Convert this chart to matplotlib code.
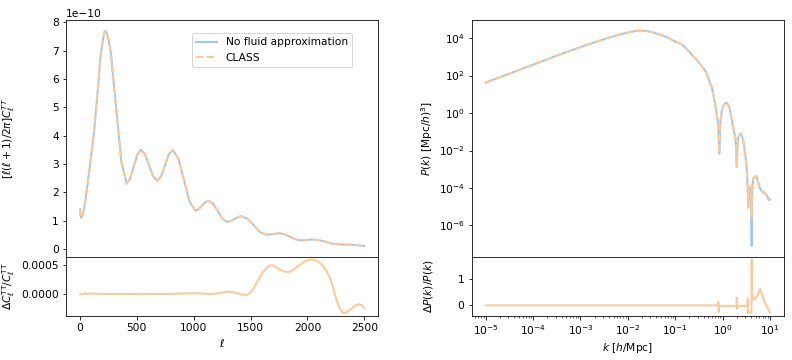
import numpy as np
import matplotlib.pyplot as plt

plt.rcParams['font.size'] = 10.6

# CMB TT spectrum (units of 1e-10)
ell = [2, 5, 10, 20, 30, 45, 64, 90, 123, 150, 181, 205, 215, 225, 237, 250,
       271, 318, 364, 410, 441, 473, 504, 535, 571, 608, 644, 680, 714, 748,
       781, 815, 865, 915, 965, 1015, 1044, 1073, 1101, 1130, 1171, 1213,
       1254, 1295, 1326, 1358, 1389, 1420, 1475, 1530, 1585, 1640, 1670, 1700,
       1730, 1760, 1805, 1850, 1895, 1940, 1967, 1995, 2022, 2050, 2100, 2150,
       2200, 2250, 2300, 2375, 2440, 2500]
cl_tt = [1.4, 1.2, 1.1, 1.15, 1.3, 1.6, 2.2, 3.0, 4.1, 5.3, 6.8, 7.45, 7.65,
         7.7, 7.62, 7.4, 6.95, 5.0, 3.09, 2.3, 2.48, 2.9, 3.32, 3.5, 3.34,
         2.95, 2.56, 2.4, 2.56, 2.95, 3.34, 3.5, 3.19, 2.43, 1.66, 1.35, 1.4,
         1.53, 1.65, 1.7, 1.59, 1.33, 1.06, 0.95, 0.98, 1.05, 1.12, 1.15, 1.06,
         0.83, 0.59, 0.5, 0.51, 0.525, 0.54, 0.55, 0.51, 0.425, 0.34, 0.3, 0.3,
         0.315, 0.326, 0.33, 0.31, 0.26, 0.2, 0.17, 0.155, 0.15, 0.13, 0.1]

# relative difference in TT (units of 1e-4)
ell_res = [2, 20, 40, 50, 60, 80, 200, 500, 800, 1000, 1080, 1150, 1230, 1300,
           1340, 1380, 1430, 1470, 1500, 1526, 1555, 1585, 1615, 1643, 1665,
           1687, 1720, 1760, 1800, 1833, 1870, 1900, 1936, 1980, 2023, 2055,
           2082, 2110, 2140, 2170, 2199, 2228, 2257, 2285, 2316, 2345, 2374,
           2415, 2456, 2480, 2500]
dcl_tt = [-0.1, -0.05, 0.1, 0.15, -0.05, 0.05, 0.0, -0.05, 0.0, 0.12, 0.05,
          -0.05, 0.15, 0.4, 0.3, 0.1, -0.15, -0.2, 0.2, 0.9, 2.0, 3.0, 3.9, 4.5,
          4.9, 5.0, 4.7, 4.2, 3.9, 3.8, 4.1, 4.6, 5.1, 5.7, 6.0, 5.95, 5.8, 5.4,
          4.8, 3.9, 2.8, 0.9, -1.1, -2.6, -3.4, -3.2, -2.8, -2.1, -1.8, -2.0,
          -2.5]

# matter power spectrum
k = [1e-5, 3e-5, 1e-4, 3e-4, 1e-3, 2e-3, 4e-3, 7e-3, 1.1e-2, 1.6e-2, 2.2e-2,
     3e-2, 4.5e-2, 6.3e-2, 0.09, 0.14, 0.2, 0.32, 0.44, 0.6, 0.72, 0.8, 0.84,
     0.85, 0.87, 0.9, 0.97, 1.08, 1.23, 1.4, 1.58, 1.75, 1.86, 1.95, 2.0,
     2.05, 2.15, 2.3, 2.45, 2.7, 3.0, 3.2, 3.4, 3.5, 3.65, 3.8, 4.0, 4.13,
     4.25, 4.5, 5.2, 6.0, 6.8, 7.9, 9.5, 10.0]
pk_class = [42, 121, 380, 1100, 3300, 6000, 1.05e4, 1.6e4, 2.1e4, 2.45e4,
            2.45e4, 2.2e4, 1.6e4, 1.2e4, 7500, 4500, 1800, 480, 170, 22, 2.0,
            0.3, 0.03, 0.0068, 0.02, 0.3, 1.5, 3.0, 3.6, 2.0, 0.4, 0.1, 0.05,
            0.008, 0.0013, 0.01, 0.05, 0.075, 0.083, 0.04, 0.007, 0.0015,
            1.4e-4, 8.5e-6, 1e-4, 1.15e-4, 3e-5, 2.5e-6, 1.5e-4, 3.5e-4,
            4.2e-4, 1.2e-4, 6.3e-5, 5.1e-5, 2.3e-5, 2.0e-5]
pk_nofluid = [42, 121, 380, 1100, 3300, 6000, 1.05e4, 1.6e4, 2.1e4, 2.45e4,
              2.45e4, 2.2e4, 1.6e4, 1.2e4, 7500, 4500, 1800, 480, 170, 22, 2.0,
              0.3, 0.03, 0.0068, 0.02, 0.3, 1.5, 3.0, 3.6, 2.0, 0.4, 0.1, 0.05,
              0.008, 0.0013, 0.01, 0.05, 0.075, 0.083, 0.04, 0.007, 0.0015,
              1.4e-4, 1e-5, 1e-4, 1.1e-4, 2e-5, 8e-8, 1.2e-4, 3.2e-4,
              4.4e-4, 1.1e-4, 6.6e-5, 5.5e-5, 2.6e-5, 2.4e-5]

# relative difference in P(k)
k_res = [1e-5, 1e-3, 0.1, 0.8, 0.82, 0.83, 0.86, 1.5, 1.98, 2.0, 2.03, 2.1,
         3.0, 3.38, 3.4, 3.42, 3.6, 4.08, 4.13, 4.2, 4.45, 4.8, 5.4, 6.2,
         7.8, 10.0]
dpk = [-0.02, -0.02, -0.02, -0.02, 0.11, -0.27, -0.04, -0.04, -0.04, 0.28,
       -0.16, -0.04, -0.05, -0.05, 0.24, -0.33, -0.3, -0.3, 1.77, 0.2, 0.3,
       0.2, 0.35, 0.62, 0.09, -0.29]

blue = '#9cc7f0'
orange = '#ffc896'

fig = plt.figure(figsize=(11, 5), dpi=72)
gs = fig.add_gridspec(2, 2, height_ratios=[4, 1], hspace=0, wspace=0.298,
                      left=0.0833, right=0.990, top=0.9444, bottom=0.1222)

# left: CMB
ax1 = fig.add_subplot(gs[0, 0])
ax2 = fig.add_subplot(gs[1, 0], sharex=ax1)
ax1.plot(ell, np.array(cl_tt) * 1e-10, lw=2, color=blue, label='No fluid approximation')
ax1.plot(ell, np.array(cl_tt) * 1e-10, lw=2, ls='--', color=orange, label='CLASS')
ax1.set_ylabel(r'$[\ell(\ell+1)/2\pi]C_\ell^{TT}$')
ax1.tick_params(bottom=False, labelbottom=False)
ax1.legend(loc='upper right', bbox_to_anchor=(0.916, 0.945), borderaxespad=0)

ax2.plot(ell_res, np.array(dcl_tt) * 1e-4, lw=2, color=orange)
ax2.set_yticks([0, 0.0005])
ax2.set_ylabel(r'$\Delta C_\ell^{\rm TT}/C_\ell^{\rm TT}$')
ax2.set_xlabel(r'$\ell$')

# right: matter power spectrum
ax3 = fig.add_subplot(gs[0, 1])
ax4 = fig.add_subplot(gs[1, 1], sharex=ax3)
ax3.loglog(k, pk_nofluid, lw=2, color=blue)
ax3.loglog(k, pk_class, lw=2, ls='--', color=orange)
ax3.yaxis.set_minor_locator(plt.NullLocator())
ax3.tick_params(which='both', bottom=False, labelbottom=False)
ax3.set_ylabel(r'$P(k)$ [Mpc/$h$)$^3$]')

ax4.semilogx(k_res, dpk, lw=2, color=orange)
ax4.set_ylabel(r'$\Delta P(k)/P(k)$')
ax4.set_xlabel(r'$k$ [$h$/Mpc]')

fig.align_ylabels([ax1, ax2])
fig.align_ylabels([ax3, ax4])

plt.savefig('out.png')
